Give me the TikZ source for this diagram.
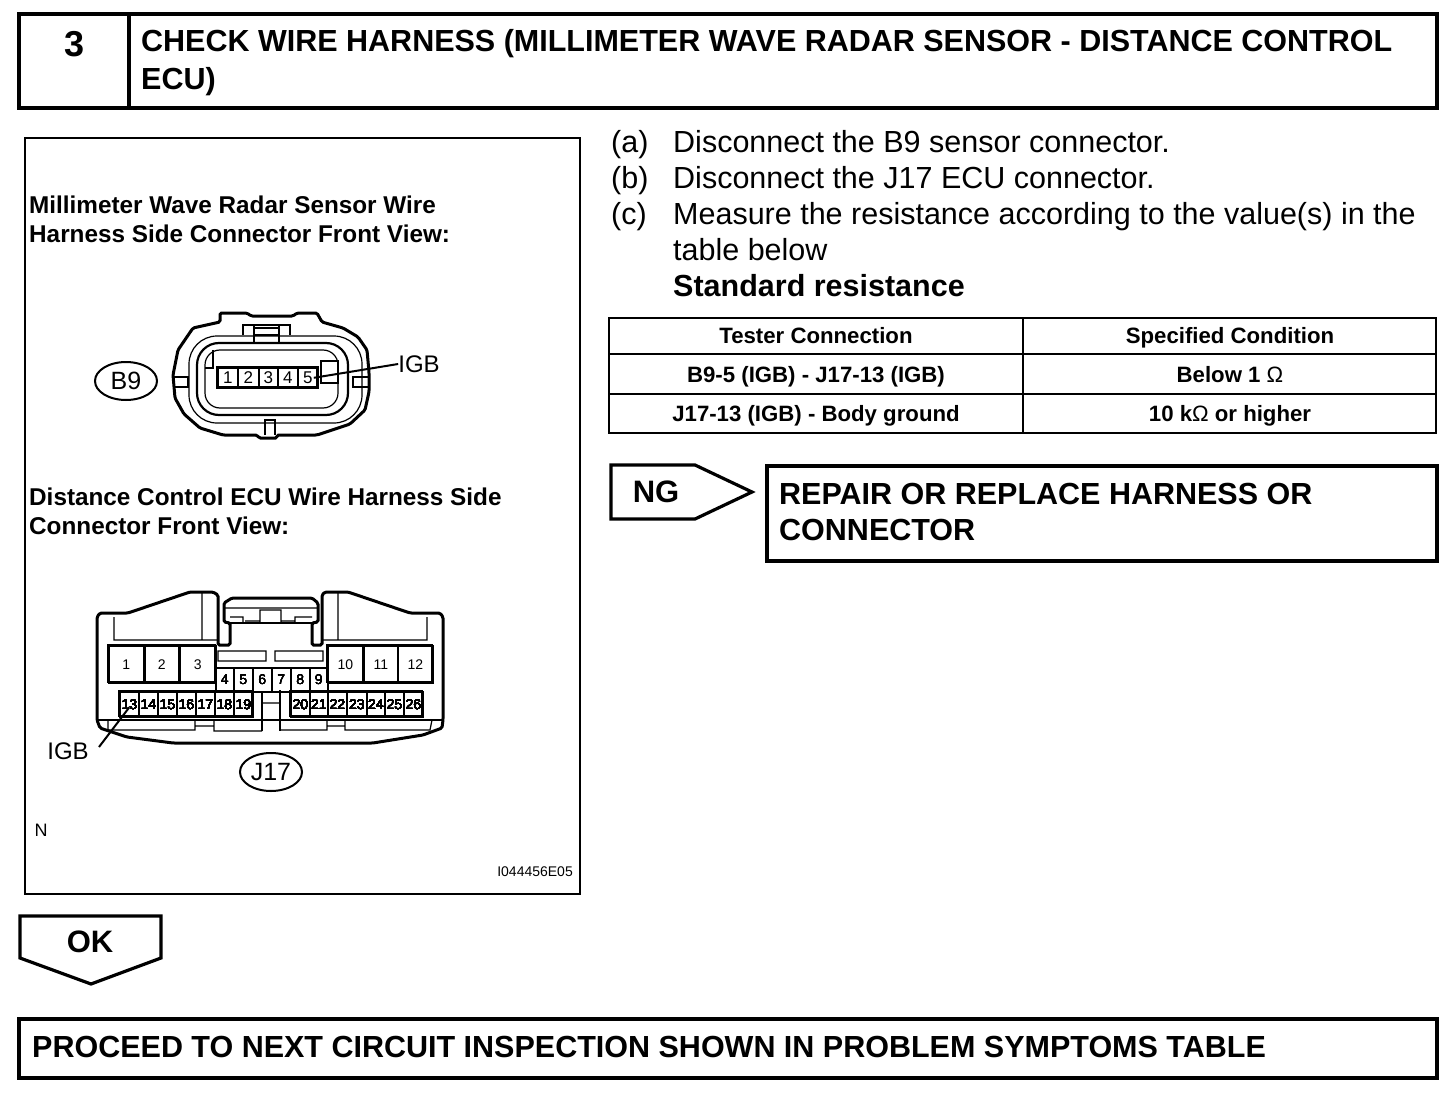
\documentclass[tikz,border=0pt]{standalone}
\usepackage{fontspec}
\setmainfont{Liberation Sans}
\usetikzlibrary{shapes.geometric,positioning,calc}
\newcommand{\fsz}[2]{\fontsize{#1}{#2}\selectfont}
\tikzstyle{frame}=[draw,line width=3.2pt,inner sep=0pt]
\tikzstyle{head}=[inner sep=0pt,anchor=north west,align=left,font=\bfseries\fsz{30.5}{38}]
\tikzstyle{body}=[inner sep=0pt,anchor=north west,align=left,font=\fsz{30.5}{36}]
\tikzstyle{note}=[inner sep=0pt,anchor=north west,align=left,font=\bfseries\fsz{24.3}{29}]
\tikzstyle{cell}=[inner sep=0pt,anchor=base,font=\bfseries\fsz{22.2}{26}]
\tikzstyle{igb}=[inner sep=0pt,font=\fsz{24}{28}]
\tikzstyle{tag}=[draw,ellipse,line width=2pt,minimum width=62pt,minimum height=38pt,inner sep=0pt,font=\fsz{25}{28}]
\tikzstyle{pin}=[draw,line width=1.6pt,inner sep=0pt,font=\fsz{14}{16}]
\tikzstyle{bigpin}=[pin,font=\fsz{17}{19}]
\tikzstyle{flow}=[line width=3.2pt,line join=miter]
\tikzstyle{thick line}=[line width=3pt]
\tikzstyle{thin line}=[line width=1.2pt]
% px sized cavity: name, text, left, top, right, bottom, style
\newcommand{\cavity}[7][pin]{\node (#2) [#1,anchor=north west,minimum width=#6pt-#4pt,minimum height=#7pt-#5pt] at (#4,#5) {#3};}
\begin{document}
\begin{tikzpicture}[x=1pt,y=-1pt,>=stealth]
\useasboundingbox (0,0) rectangle (1456,1094);
% title bar
\draw[frame] (19,14) rectangle (1437,108);
\coordinate (bartop) at (129,14);
\coordinate (barbot) at (129,108);
\draw[flow] (bartop) -- (barbot);
\node (stepno) [inner sep=0pt,font=\bfseries\fsz{36}{40}] at (75,44) {3};
\node (title) [head] at (141,29) {CHECK WIRE HARNESS (MILLIMETER WAVE RADAR SENSOR - DISTANCE CONTROL\\ECU)};
% left panel
\draw[line width=2pt] (25,138) rectangle (580,894);
\node (capa) [note] at (29,196) {Millimeter Wave Radar Sensor Wire\\Harness Side Connector Front View:};
\node (capb) [note] at (29,488) {Distance Control ECU Wire Harness Side\\Connector Front View:};
\node (mark) [inner sep=0pt,font=\fsz{18}{20}] at (41,830) {N};
\node (code) [inner sep=0pt,anchor=east,font=\fsz{14}{16}] at (573,872) {I044456E05};
% B9 connector
\draw[thick line,rounded corners=1.5pt] (220,322) -- (220,313) -- (247,313) -- (251,316) -- (293,316) -- (297,313) -- (317,313) -- (322,322)
  -- (343,328) -- (358,337) -- (367,350) -- (369,372) -- (369,392) -- (365,410) -- (350,424) -- (317,435) -- (277,435) -- (277,438) -- (259,438) -- (257,435)
  -- (223,435) -- (200,428) -- (184,414) -- (175,398) -- (173,375) -- (178,350) -- (193,328) -- cycle;
\draw[thin line,rounded corners=28pt] (189,336) rectangle (362,423);
\draw[line width=2.2pt,rounded corners=22pt] (197,343) rectangle (348,415);
\draw[thin line,rounded corners=15pt] (205,350) rectangle (338,408);
\draw[thin line] (243,335) -- (243,325) -- (290,325) -- (290,335)
  (254,325) -- (254,342) (279,325) -- (279,342) (254,328) -- (279,328) (254,335) -- (279,335)
  (205,368) -- (213,368) -- (213,350) (321,361) rectangle (338,383)
  (173,377) -- (188,377) -- (188,387) -- (173,387) (368,377) -- (353,377) -- (353,387) -- (368,387)
  (265,435) -- (265,420) -- (275,420) -- (275,435);
\cavity[bigpin]{ba}{1}{217}{367}{237}{387}
\cavity[bigpin]{bb}{2}{237}{367}{258}{387}
\cavity[bigpin]{bc}{3}{258}{367}{277}{387}
\cavity[bigpin]{bd}{4}{277}{367}{297}{387}
\cavity[bigpin]{be}{5}{297}{367}{317}{387}
\draw[line width=3pt] (217,367) rectangle (317,387);
\node (igba) [igb] at (419,364) {IGB};
\node (bnine) [tag] at (126,381) {B9};
\draw[line width=2pt] (be.center) ++(6,0) -- (igba.west);
% J17 connector
\draw[thick line,rounded corners=1.5pt] (97,617) -- (100,613) -- (128,613) -- (190,592) -- (213,592) -- (218,595) -- (218,645) -- (230,645) -- (230,623)
  -- (224,622) -- (224,603) -- (232,598) -- (312,598) -- (318,603) -- (318,622) -- (312,623) -- (312,645) -- (322,645) -- (322,595) -- (325,592)
  -- (348,592) -- (410,613) -- (440,613) -- (443,617) -- (443,720) -- (442,728) -- (423,735) -- (373,743) -- (173,743) -- (127,737) -- (100,728) -- (97,720) -- cycle;
\draw[line width=2pt] (97,720) -- (443,720) (230,623) -- (312,623);
\draw[thin line] (114,617) -- (114,640) -- (218,640) (202,593) -- (202,640) (338,593) -- (338,640) -- (322,640) (338,640) -- (427,640) -- (427,617)
  (224,608) -- (318,608) (260,623) -- (260,610) -- (281,610) -- (281,623) (230,617) -- (243,617) -- (243,623) (245,621) -- (260,621) (281,621) -- (295,621)
  (295,623) -- (295,617) -- (312,617) (218,651) rectangle (266,661) (275,651) rectangle (323,661)
  (108,720) -- (108,730) -- (195,730) -- (195,720) (214,720) -- (214,731) -- (262,731) (195,726) -- (214,726)
  (280,730) -- (327,730) -- (327,720) (345,720) -- (345,730) -- (430,730) -- (432,720) (327,726) -- (345,726) (262,703) -- (280,703);
\draw[line width=2pt] (262,692) -- (262,731) (280,690) -- (280,731);
\foreach \nm/\xa/\xb in {1/108/143,2/144/178,3/179/215,10/327/362,11/363/397,12/397/432}
  \cavity{j\nm}{\nm}{\xa}{645}{\xb}{682}
\foreach \nm/\xa/\xb in {4/215/233,5/233/252,6/252/271,7/271/290,8/290/309,9/309/327}
  \cavity{j\nm}{\nm}{\xa}{667}{\xb}{691}
\foreach \nm/\xa/\xb in {13/119/138,14/138/157,15/157/176,16/176/195,17/195/214,18/214/233,19/233/252,20/290/309,21/309/327,22/327/346,23/346/366,24/366/384,25/384/403,26/403/422}
  \cavity{j\nm}{\nm}{\xa}{691}{\xb}{716}
\draw[line width=2.6pt] (108,645) rectangle (215,682) (327,645) rectangle (432,682) (119,691) rectangle (252,716) (290,691) rectangle (422,716);
\node (igbb) [igb] at (68,751) {IGB};
\node (jseven) [tag] at (271,772) {J17};
\coordinate (leadb) at (99,747);
\draw[line width=2pt] (j13.center) ++(0,3) -- (leadb);
% procedure text
\node (stepa) [body] at (611,130) {(a)};
\node (stepb) [body] at (611,166) {(b)};
\node (stepc) [body] at (611,202) {(c)};
\node (texta) [body] at (673,130) {Disconnect the B9 sensor connector.};
\node (textb) [body] at (673,166) {Disconnect the J17 ECU connector.};
\node (textc) [body] at (673,202) {Measure the resistance according to the value(s) in the\\table below\\\textbf{Standard resistance}};
% table
\draw[line width=2.6pt] (609,318) rectangle (1436,433) (609,354) -- (1436,354) (609,394) -- (1436,394) (1023,318) -- (1023,433);
\node (tha) [cell] at (816,343) {Tester Connection};
\node (thb) [cell] at (1230,343) {Specified Condition};
\node (ca) [cell] at (816,382) {B9-5 (IGB) - J17-13 (IGB)};
\node (cb) [cell] at (1230,382) {Below 1 \textmd{Ω}};
\node (cc) [cell] at (816,421) {J17-13 (IGB) - Body ground};
\node (cd) [cell] at (1230,421) {10 k\textmd{Ω} or higher};
% result arrows and boxes
\draw[flow] (611,465) -- (695,465) -- (752,492) -- (695,519) -- (611,519) -- cycle;
\node (ng) [inner sep=0pt,font=\bfseries\fsz{31}{36}] at (656,492) {NG};
\draw[frame] (767,466) rectangle (1437,561);
\node (repair) [head,font=\bfseries\fsz{30.5}{36}] at (779,483) {REPAIR OR REPLACE HARNESS OR\\CONNECTOR};
\draw[flow] (20,916) -- (161,916) -- (161,958) -- (91,984) -- (20,958) -- cycle;
\node (ok) [inner sep=0pt,font=\bfseries\fsz{31}{36}] at (90,942) {OK};
\draw[frame] (19,1019) rectangle (1437,1078);
\node (proceed) [head] at (32,1036) {PROCEED TO NEXT CIRCUIT INSPECTION SHOWN IN PROBLEM SYMPTOMS TABLE};
\end{tikzpicture}
\end{document}
